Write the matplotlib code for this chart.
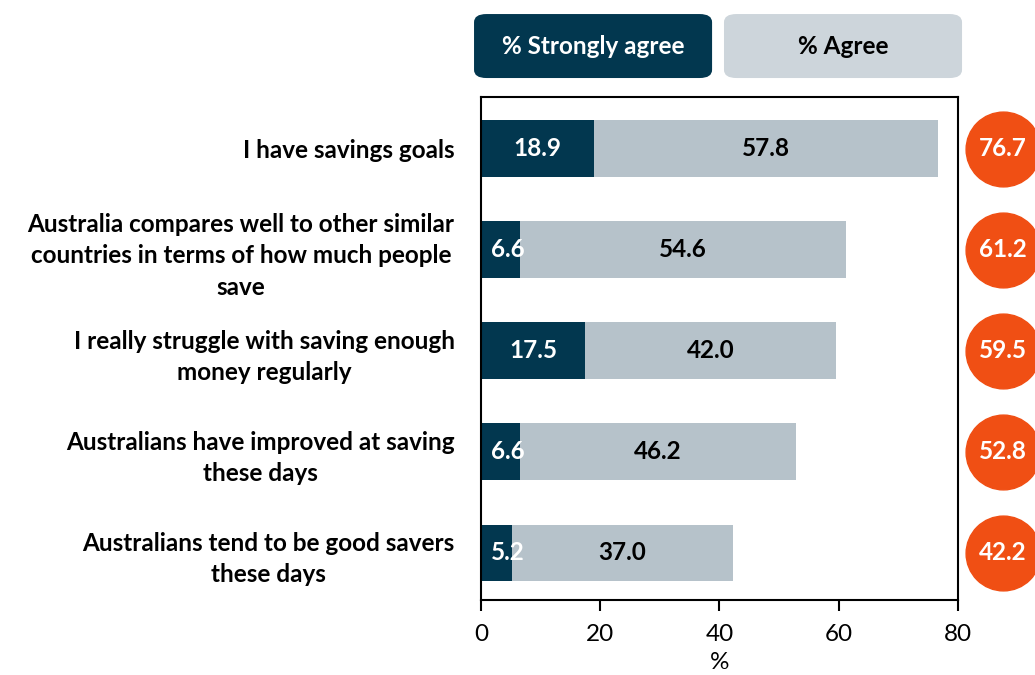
import matplotlib
matplotlib.use("Agg")
import matplotlib.pyplot as plt
from matplotlib.patches import FancyBboxPatch

# === Data ===
statements = [
    "I have savings goals",
    "Australia compares well to other similar\ncountries in terms of how much people\nsave",
    "I really struggle with saving enough\nmoney regularly",
    "Australians have improved at saving\nthese days",
    "Australians tend to be good savers\nthese days",
]
strongly_agree = [18.9, 6.6, 17.5, 6.6, 5.2]
agree = [57.8, 54.6, 42.0, 46.2, 37.0]
total_agree = [76.7, 61.2, 59.5, 52.8, 42.2]
x_ticks = [0, 20, 40, 60, 80]

# === Colours ===
DARK = "#02374f"
LIGHT = "#b6c2ca"
LEGEND_LIGHT = "#cdd5db"
ORANGE = "#f04f14"
FS = 17.5

plt.rcParams['font.family'] = ['Lato', 'DejaVu Sans']

fig = plt.figure(figsize=(10.35, 6.75), dpi=100)
ax = fig.add_axes([0.4647, 0.1111, 0.4609, 0.7452])

ypos = list(range(len(statements)))
bar_h = 0.555

ax.barh(ypos, strongly_agree, height=bar_h, color=DARK)
ax.barh(ypos, agree, left=strongly_agree, height=bar_h, color=LIGHT)

for y, sa, a in zip(ypos, strongly_agree, agree):
    if sa >= 10:
        ax.text(sa / 2, y, f"{sa:.1f}", ha="center", va="center",
                color="white", fontsize=FS, fontweight="bold")
    else:
        ax.text(1.7, y, f"{sa:.1f}", ha="left", va="center",
                color="white", fontsize=FS, fontweight="bold")
    ax.text(sa + a / 2, y, f"{a:.1f}", ha="center", va="center",
            color="black", fontsize=FS, fontweight="bold")

# totals in orange circles to the right of the plot
ax.scatter([87.5] * len(ypos), ypos, s=2900, color=ORANGE, clip_on=False, zorder=5)
for y, t in zip(ypos, total_agree):
    ax.text(87.5, y, f"{t:.1f}", ha="center", va="center", color="white",
            fontsize=FS, fontweight="bold", zorder=6, clip_on=False)

ax.set_xlim(0, 80)
ax.set_ylim(4.47, -0.51)
ax.set_xticks(x_ticks)
ax.set_xticklabels([str(v) for v in x_ticks], fontsize=FS)
ax.set_xlabel("%", fontsize=FS, labelpad=5)
ax.set_yticks(ypos)
ax.set_yticklabels(statements, fontsize=FS, fontweight="bold", ha="right",
                   multialignment="center", linespacing=1.45)
ax.tick_params(axis="y", length=0, pad=19)
ax.tick_params(axis="x", direction="out", length=8, width=1.5, pad=9)
for sp in ax.spines.values():
    sp.set_linewidth(1.5)
    sp.set_color("black")

# legend boxes along the top
boxes = [("% Strongly agree", DARK, "white", 0.458),
         ("% Agree", LEGEND_LIGHT, "black", 0.6995)]
for label, fc, tc, x0 in boxes:
    w, h, y0 = 0.23, 0.0948, 0.8844
    fig.patches.append(FancyBboxPatch((x0, y0), w, h, boxstyle="round,pad=0,rounding_size=0.012",
                                      transform=fig.transFigure, facecolor=fc, edgecolor="none"))
    fig.text(x0 + w / 2, y0 + h / 2, label, ha="center", va="center", color=tc,
             fontsize=FS, fontweight="bold")

fig.savefig("out.png", dpi=100)
